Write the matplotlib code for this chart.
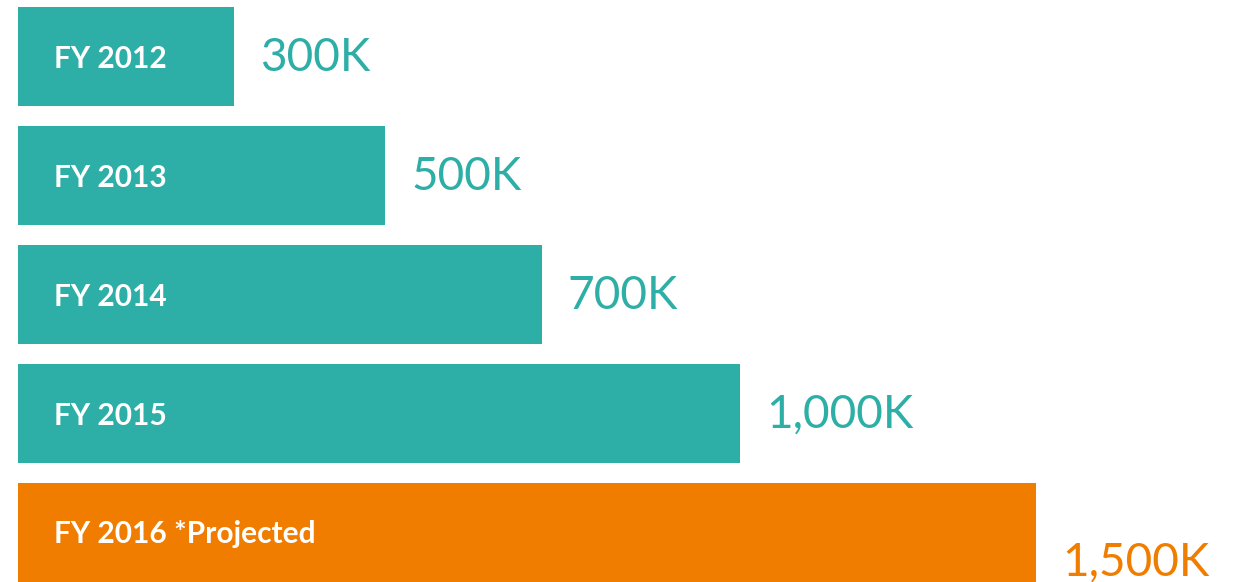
import matplotlib
matplotlib.use("Agg")
import matplotlib.pyplot as plt

# Data
categories = ["FY 2012", "FY 2013", "FY 2014", "FY 2015", "FY 2016 *Projected"]
value_labels = ["300K", "500K", "700K", "1,000K", "1,500K"]
values_k = [300, 500, 700, 1000, 1500]
# bar lengths as drawn in the picture (in K, relative to the 1,500K bar)
bar_lengths = [318, 541, 772, 1064, 1500]
projected = [False, False, False, False, True]

TEAL = "#2DAEA6"
ORANGE = "#F07D00"

W, H, DPI = 1238, 582, 100
fig = plt.figure(figsize=(W / DPI, H / DPI), dpi=DPI)
ax = fig.add_axes([0, 0, 1, 1])

px_per_k = 1018 / 1500
ax.set_xlim(-18 / px_per_k, (W - 18) / px_per_k)
ax.set_ylim((H - 56.5) / 119, -56.5 / 119)
ax.axis("off")

colors = [ORANGE if p else TEAL for p in projected]
ypos = list(range(len(categories)))
ax.barh(ypos, bar_lengths, height=0.825, color=colors, left=0)

for i, (cat, lab, length, c) in enumerate(zip(categories, value_labels, bar_lengths, colors)):
    inner_dy = -10.5 if projected[i] else -11.5
    ax.annotate(cat, xy=(0, i), xytext=(36, inner_dy), textcoords="offset pixels",
                ha="left", va="baseline", color="white", fontsize=21.5,
                fontfamily="Lato", fontweight="bold")
    dy = -43 if projected[i] else -14.5
    ax.annotate(lab, xy=(length, i), xytext=(26, dy), textcoords="offset pixels",
                ha="left", va="baseline", color=c, fontsize=33,
                fontfamily="Lato", fontweight="normal")

fig.savefig("out.png", dpi=DPI)
